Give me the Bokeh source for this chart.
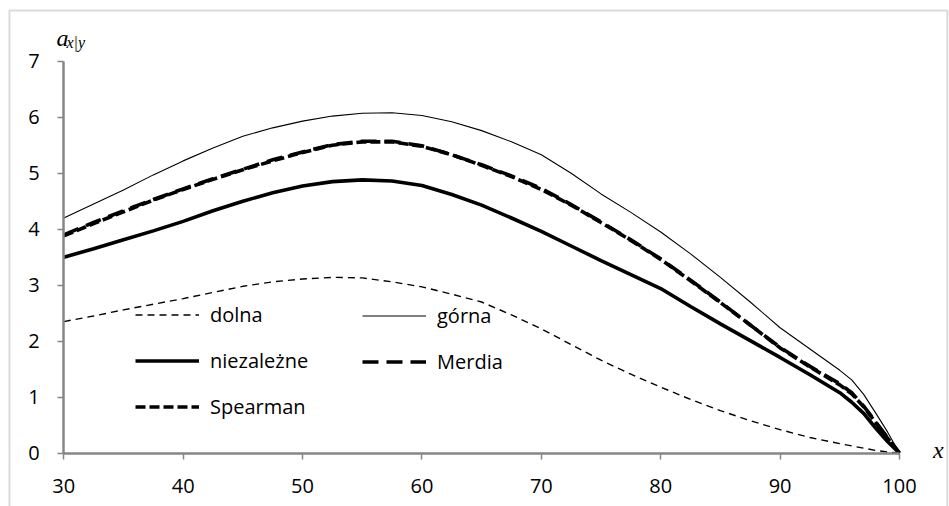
from bokeh.plotting import figure
from bokeh.models import (Range1d, FixedTicker, Legend, LegendItem, Label, BoxAnnotation)
from bokeh.embed import file_html
from bokeh.resources import INLINE

# ---- data ----
x = [30, 32.5, 35, 37.5, 40, 42.5, 45, 47.5, 50, 52.5, 55, 57.5, 60, 62.5, 65, 67.5,
     70, 72.5, 75, 77.5, 80, 82.5, 85, 87.5, 90, 92.5, 95, 96, 97, 98, 99, 100]

dolna = [2.35, 2.45, 2.56, 2.66, 2.76, 2.87, 2.98, 3.06, 3.11, 3.14, 3.13, 3.06, 2.97, 2.84,
         2.70, 2.47, 2.22, 1.94, 1.66, 1.41, 1.18, 0.96, 0.76, 0.58, 0.42, 0.28, 0.17,
         0.13, 0.09, 0.05, 0.02, 0.0]

gorna = [4.20, 4.45, 4.70, 4.97, 5.22, 5.45, 5.66, 5.81, 5.93, 6.02, 6.07, 6.08, 6.03, 5.92,
         5.76, 5.56, 5.33, 5.00, 4.63, 4.30, 3.95, 3.56, 3.14, 2.70, 2.24, 1.86, 1.48,
         1.31, 1.05, 0.72, 0.38, 0.0]

niezalezne = [3.50, 3.65, 3.81, 3.97, 4.14, 4.33, 4.50, 4.65, 4.77, 4.85, 4.88, 4.86, 4.78,
              4.62, 4.43, 4.20, 3.96, 3.70, 3.44, 3.19, 2.94, 2.62, 2.31, 2.01, 1.71, 1.40,
              1.08, 0.91, 0.71, 0.45, 0.21, 0.0]

merdia = [3.90, 4.12, 4.33, 4.53, 4.72, 4.90, 5.07, 5.24, 5.38, 5.51, 5.57, 5.57, 5.49, 5.33,
          5.15, 4.95, 4.73, 4.44, 4.13, 3.81, 3.47, 3.09, 2.70, 2.29, 1.89, 1.55, 1.24,
          1.08, 0.84, 0.56, 0.28, 0.0]

spearman = [3.88, 4.10, 4.31, 4.52, 4.71, 4.89, 5.06, 5.22, 5.37, 5.50, 5.56, 5.56, 5.48,
            5.33, 5.14, 4.94, 4.71, 4.43, 4.12, 3.80, 3.46, 3.08, 2.69, 2.29, 1.88, 1.54,
            1.22, 1.06, 0.83, 0.55, 0.27, 0.0]

x_ticks = [30, 40, 50, 60, 70, 80, 90, 100]
y_ticks = [0, 1, 2, 3, 4, 5, 6, 7]

AXIS_GRAY = "#868686"
FONT = "Open Sans"

# the frame covers the whole canvas; the axes sit at x=30 / y=0 inside it
p = figure(width=949, height=506, output_backend="svg", toolbar_location=None,
           x_range=Range1d(24.70, 104.19), y_range=Range1d(-0.952, 8.084),
           min_border_left=0, min_border_right=0, min_border_top=0, min_border_bottom=0)
p.outline_line_color = None
p.xgrid.visible = False
p.ygrid.visible = False
p.background_fill_color = "white"
p.border_fill_color = "white"

for ax in (p.xaxis[0], p.yaxis[0]):
    ax.axis_line_color = AXIS_GRAY
    ax.axis_line_width = 2.5
    ax.major_tick_line_color = AXIS_GRAY
    ax.major_tick_line_width = 1.5
    ax.major_tick_in = 0
    ax.major_tick_out = 6
    ax.minor_tick_line_color = None
    ax.major_label_text_font = FONT
    ax.major_label_text_font_size = "20px"
    ax.major_label_text_color = "#000000"
p.xaxis[0].ticker = FixedTicker(ticks=x_ticks)
p.yaxis[0].ticker = FixedTicker(ticks=y_ticks)
p.xaxis[0].bounds = (30, 100)
p.yaxis[0].bounds = (0, 7)
p.xaxis[0].fixed_location = 0
p.yaxis[0].fixed_location = 30
p.xaxis[0].major_label_standoff = 20
p.yaxis[0].major_label_standoff = 18

r_dolna = p.line(x, dolna, line_color="black", line_width=1.4, line_dash="7 5")
r_gorna = p.line(x, gorna, line_color="black", line_width=1.1)
r_niez = p.line(x, niezalezne, line_color="black", line_width=3.6)
r_merdia = p.line(x, merdia, line_color="black", line_width=3.6, line_dash="16 8")
r_spear = p.line(x, spearman, line_color="black", line_width=3.6, line_dash="10 4")

def make_legend(items, loc):
    leg = Legend(items=items, location=loc, orientation="vertical",
                 label_text_font=FONT, label_text_font_size="20px", label_text_color="#000000",
                 glyph_width=64, glyph_height=27, label_height=27, label_standoff=11,
                 spacing=19, padding=0, margin=0,
                 border_line_color=None, background_fill_alpha=0)
    return leg

leg1 = make_legend([LegendItem(label="dolna", renderers=[r_dolna]),
                    LegendItem(label="niezależne", renderers=[r_niez]),
                    LegendItem(label="Spearman", renderers=[r_spear])], (135, 86))
leg2 = make_legend([LegendItem(label="górna", renderers=[r_gorna]),
                    LegendItem(label="Merdia", renderers=[r_merdia])], (362, 131))
p.add_layout(leg1, "center")
p.add_layout(leg2, "center")

# axis titles
p.add_layout(Label(x=29.39, y=7.41, text="a", text_font="Liberation Serif",
                   text_font_style="italic", text_font_size="24px", text_color="black",
                   text_align="left", text_baseline="alphabetic"))
p.add_layout(Label(x=30.23, y=7.34, text="x|y", text_font="Liberation Serif",
                   text_font_style="italic", text_font_size="16px", text_color="black",
                   text_align="left", text_baseline="alphabetic"))
p.add_layout(Label(x=103.25, y=0.06, text="x", text_font="Liberation Serif",
                   text_font_style="italic", text_font_size="24px", text_color="black",
                   text_align="center", text_baseline="alphabetic"))

# outer chart border (its bottom edge lies below the picture)
p.add_layout(BoxAnnotation(left=25.454, right=104.01, top=7.905, bottom=-2.0,
                           fill_alpha=0, line_color="#868686", line_width=2))

open("out.html", "w").write(file_html(p, INLINE))
